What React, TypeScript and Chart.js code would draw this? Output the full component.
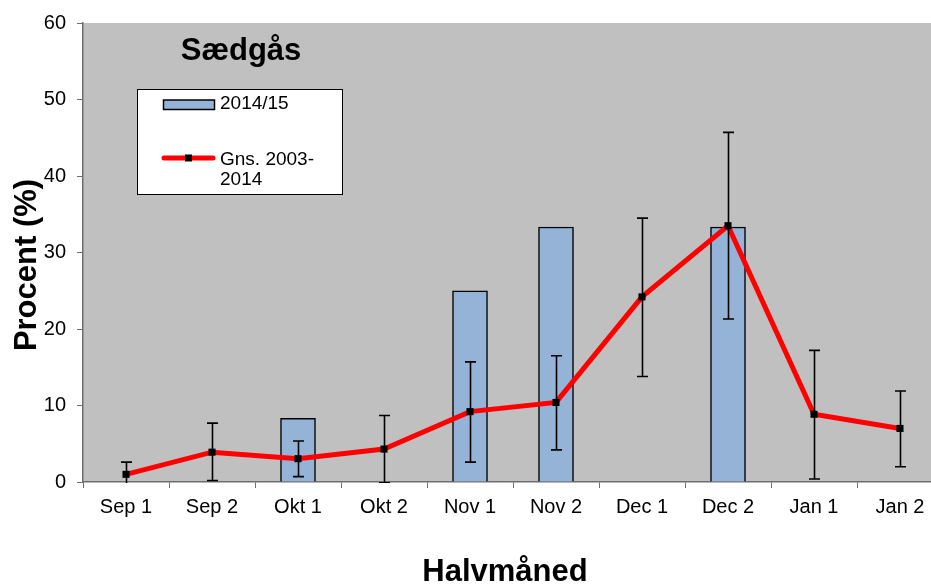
import React, { useEffect, useRef } from "react";
import { Chart, registerables } from "chart.js";

Chart.register(...registerables);

const categories = ["Sep 1", "Sep 2", "Okt 1", "Okt 2", "Nov 1", "Nov 2", "Dec 1", "Dec 2", "Jan 1", "Jan 2"];
const season2014: (number | null)[] = [null, null, 8.33, null, 25, 33.33, null, 33.33, null, null];
const meanValues = [1.0, 3.9, 3.05, 4.3, 9.2, 10.4, 24.2, 33.5, 8.85, 7.0];
const errHigh = [2.6, 7.7, 5.35, 8.7, 15.7, 16.5, 34.5, 45.7, 17.2, 11.9];
const errLow = [-0.6, 0.2, 0.7, -0.1, 2.6, 4.2, 13.8, 21.3, 0.4, 2.0];
const yTicks = [0, 10, 20, 30, 40, 50, 60];

const FONT = "'Liberation Sans', Arial, Helvetica, sans-serif";

const bgPlugin = {
  id: "bgPlugin",
  beforeDraw(chart: any) {
    const { ctx, chartArea } = chart;
    ctx.save();
    ctx.fillStyle = "#C0C0C0";
    ctx.fillRect(chartArea.left, chartArea.top, chartArea.right - chartArea.left, chartArea.bottom - chartArea.top);
    ctx.restore();
  },
};

const errorBarPlugin = {
  id: "errorBarPlugin",
  afterDatasetsDraw(chart: any) {
    const { ctx, chartArea, scales } = chart;
    const x = scales.x;
    const y = scales.y;
    ctx.save();
    ctx.beginPath();
    ctx.rect(chartArea.left, chartArea.top, chartArea.right - chartArea.left, chartArea.bottom - chartArea.top + 1);
    ctx.clip();
    ctx.strokeStyle = "#000000";
    ctx.lineWidth = 1.6;
    for (let i = 0; i < categories.length; i++) {
      const px = Math.round(x.getPixelForValue(i)) + 0.5;
      const yh = y.getPixelForValue(errHigh[i]);
      const yl = y.getPixelForValue(errLow[i]);
      ctx.beginPath();
      ctx.moveTo(px, yh);
      ctx.lineTo(px, yl);
      ctx.moveTo(px - 5.5, yh);
      ctx.lineTo(px + 5.5, yh);
      ctx.moveTo(px - 5.5, yl);
      ctx.lineTo(px + 5.5, yl);
      ctx.stroke();
    }
    ctx.restore();
  },
};

const textPlugin = {
  id: "textPlugin",
  afterDraw(chart: any) {
    const { ctx } = chart;
    ctx.save();
    // title
    ctx.fillStyle = "#000";
    ctx.font = `bold 31px ${FONT}`;
    ctx.textAlign = "center";
    ctx.textBaseline = "alphabetic";
    ctx.fillText("Sædgås", 241, 60);

    // legend
    ctx.fillStyle = "#FFFFFF";
    ctx.fillRect(137, 89, 206, 106);
    ctx.strokeStyle = "#000";
    ctx.lineWidth = 1;
    ctx.strokeRect(137.5, 89.5, 205, 105);

    ctx.fillStyle = "#95B3D7";
    ctx.fillRect(163.5, 100, 51, 9.5);
    ctx.lineWidth = 1.5;
    ctx.strokeRect(163.5, 100, 51, 9.5);

    ctx.strokeStyle = "#FF0000";
    ctx.lineWidth = 5;
    ctx.lineCap = "round";
    ctx.beginPath();
    ctx.moveTo(164, 158);
    ctx.lineTo(213, 158);
    ctx.stroke();
    ctx.fillStyle = "#000";
    ctx.fillRect(185, 154.5, 7, 7);

    ctx.font = `19px ${FONT}`;
    ctx.textAlign = "left";
    ctx.textBaseline = "middle";
    ctx.fillText("2014/15", 220, 104);
    ctx.fillText("Gns. 2003-", 220, 160);
    ctx.fillText("2014", 220, 180);

    // axis titles
    ctx.font = `bold 31px ${FONT}`;
    ctx.textAlign = "center";
    ctx.textBaseline = "alphabetic";
    ctx.fillText("Halvmåned", 505, 581);

    ctx.translate(36, 265);
    ctx.rotate(-Math.PI / 2);
    ctx.fillText("Procent (%)", 0, 0);
    ctx.restore();
  },
};

export default function App() {
  const ref = useRef<HTMLCanvasElement | null>(null);
  useEffect(() => {
    if (!ref.current) return;
    const chart = new Chart(ref.current, {
      type: "bar",
      data: {
        labels: categories,
        datasets: [
          {
            type: "line",
            label: "Gns. 2003-2014",
            data: meanValues,
            borderColor: "#FF0000",
            borderWidth: 5,
            tension: 0,
            pointStyle: "rect",
            pointRadius: 5,
            pointBackgroundColor: "#000",
            pointBorderColor: "#000",
            pointBorderWidth: 0,
            order: 0,
          } as any,
          {
            type: "bar",
            label: "2014/15",
            data: season2014,
            backgroundColor: "#95B3D7",
            borderColor: "#000",
            borderWidth: 1.5,
            barThickness: 35,
            order: 1,
          } as any,
        ],
      },
      options: {
        responsive: false,
        animation: false,
        devicePixelRatio: 1,
        layout: { padding: { left: 0, top: 23, right: 17, bottom: 0 } },
        plugins: {
          legend: { display: false },
          tooltip: { enabled: false },
          title: { display: false },
        },
        scales: {
          x: {
            type: "category",
            offset: true,
            grid: {
              display: true,
              offset: true,
              drawOnChartArea: false,
              drawTicks: true,
              tickLength: 6,
              color: "#6E6E6E",
            },
            border: { display: true, color: "#6E6E6E", width: 1.5 },
            ticks: {
              color: "#000",
              font: { family: FONT, size: 20 },
              padding: 7,
              maxRotation: 0,
              autoSkip: false,
            },
            afterFit(scale: any) {
              scale.height = 102;
            },
          },
          y: {
            min: 0,
            max: 60,
            afterBuildTicks(scale: any) {
              scale.ticks = yTicks.map((v) => ({ value: v }));
            },
            grid: {
              display: true,
              drawOnChartArea: false,
              drawTicks: true,
              tickLength: 6,
              color: "#6E6E6E",
            },
            border: { display: true, color: "#6E6E6E", width: 1.5 },
            ticks: {
              color: "#000",
              font: { family: FONT, size: 20 },
              padding: 11,
            },
            afterFit(scale: any) {
              scale.width = 83;
            },
          },
        },
      },
      plugins: [bgPlugin, errorBarPlugin, textPlugin],
    });
    return () => chart.destroy();
  }, []);

  return (
    <div style={{ position: "fixed", left: 0, top: 0, width: 931, height: 584, overflow: "hidden", background: "#fff" }}>
      <canvas ref={ref} width={960} height={584} style={{ display: "block" }} />
    </div>
  );
}
